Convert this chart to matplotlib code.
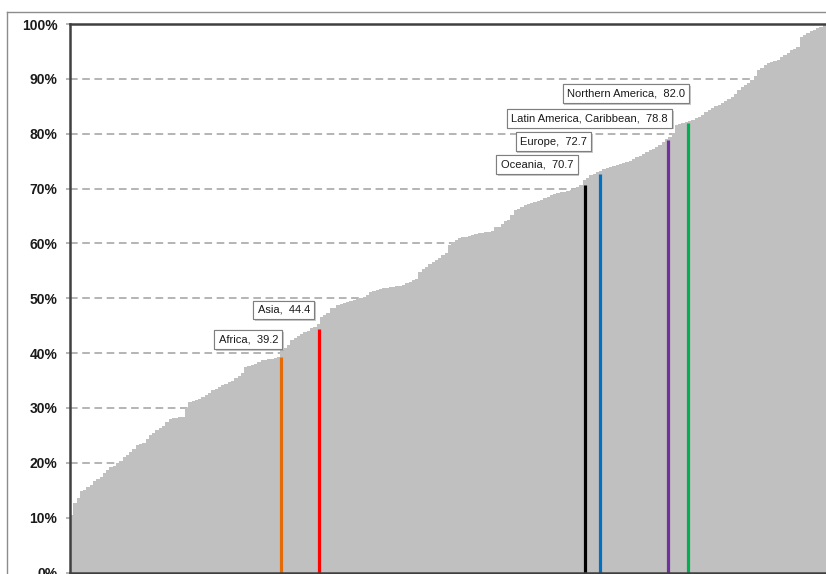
import matplotlib

matplotlib.use("Agg")
import matplotlib.pyplot as plt
import matplotlib.patheffects as pe
import numpy as np
from matplotlib.lines import Line2D

# urban share of population (%), countries sorted ascending
urban = [
    10.5, 12.6, 13.5, 14.9, 15.0, 15.5, 16.0, 16.6, 17.0, 17.5,
    18.2, 18.6, 19.2, 19.5, 20.0, 20.4, 21.0, 21.4, 21.9, 22.5,
    23.2, 23.4, 23.7, 24.3, 25.0, 25.5, 26.0, 26.4, 26.8, 27.4,
    28.0, 28.1, 28.2, 28.3, 28.4, 30.0, 31.0, 31.2, 31.4, 31.7,
    32.0, 32.3, 32.7, 33.2, 33.5, 33.8, 34.1, 34.4, 34.7, 35.0,
    35.4, 35.8, 36.3, 37.5, 37.6, 37.8, 38.1, 38.3, 38.7, 38.8,
    38.9, 39.0, 39.1, 39.2, 40.5, 41.0, 41.5, 42.3, 42.8, 43.2,
    43.4, 43.8, 44.1, 44.5, 44.8, 45.3, 46.5, 47.0, 47.4, 48.2,
    48.3, 48.7, 48.9, 49.1, 49.3, 49.5, 49.6, 49.8, 50.0, 50.2,
    50.6, 51.1, 51.3, 51.5, 51.7, 51.8, 51.9, 52.0, 52.1, 52.2,
    52.2, 52.4, 52.7, 53.0, 53.3, 53.6, 54.8, 55.3, 55.7, 56.2,
    56.6, 57.0, 57.3, 57.8, 58.2, 59.7, 60.2, 60.6, 60.9, 61.1,
    61.2, 61.4, 61.6, 61.8, 61.9, 61.9, 62.0, 62.0, 62.3, 63.0,
    63.0, 63.5, 64.0, 64.2, 65.2, 66.0, 66.3, 66.6, 67.0, 67.1,
    67.3, 67.5, 67.7, 68.0, 68.2, 68.5, 68.8, 69.0, 69.1, 69.3,
    69.4, 69.6, 69.7, 70.0, 70.3, 70.6, 71.6, 72.0, 72.4, 72.7,
    73.0, 73.2, 73.5, 73.7, 73.9, 74.1, 74.3, 74.5, 74.6, 74.8,
    75.0, 75.3, 75.7, 76.0, 76.3, 76.6, 77.0, 77.3, 77.6, 78.0,
    78.5, 79.0, 79.4, 80.2, 81.6, 81.8, 82.0, 82.1, 82.3, 82.5,
    82.8, 83.0, 83.5, 84.0, 84.3, 84.7, 85.0, 85.3, 85.6, 86.0,
    86.3, 86.7, 87.3, 87.9, 88.5, 88.9, 89.3, 89.8, 90.5, 91.6,
    92.0, 92.5, 92.9, 93.1, 93.3, 93.4, 94.0, 94.4, 94.7, 95.2,
    95.5, 95.8, 97.6, 98.0, 98.4, 98.7, 98.9, 99.2, 99.5, 99.8,
]

regions = ["Africa", "Asia", "Oceania", "Europe", "Latin America, Caribbean", "Northern America"]
region_values = [39.2, 44.4, 70.7, 72.7, 78.8, 82.0]
region_rank = [64.2, 75.75, 156.7, 161.2, 181.9, 188.0]
region_colors = ["#E36C09", "#FF0000", "#000000", "#0070C0", "#7030A0", "#00B050"]
# label box offsets (pixels) from the top of each line
label_offsets = [(-3, 13), (-9, 14), (-12, 15), (-13, 27), (0, 17), (-3, 24)]

yticks = np.arange(0, 101, 10)

W, H = 826, 574
fig = plt.figure(figsize=(W / 100, H / 100), dpi=100)
ax = fig.add_axes([70 / W, 1.5 / H, 1 - 70 / W, 548.5 / H])

# outer chart frame
fig.add_artist(Line2D([7 / W, 7 / W], [0, 1 - 12 / H], color="#8C8C8C", lw=1))
fig.add_artist(Line2D([7 / W, 1], [1 - 12 / H, 1 - 12 / H], color="#8C8C8C", lw=1))

edges = np.arange(len(urban) + 1)
ax.stairs(urban, edges, fill=True, color="#C0C0C0", zorder=2)

for x, v, c in zip(region_rank, region_values, region_colors):
    ax.plot([x, x], [0, v], color=c, lw=2.3, solid_capstyle="butt", zorder=3)

for name, x, v, (dx, dy) in zip(regions, region_rank, region_values, label_offsets):
    ann = ax.annotate(
        f"{name},  {v:.1f}",
        xy=(x, v),
        xytext=(dx, dy),
        textcoords="offset pixels",
        ha="right",
        va="bottom",
        fontsize=8,
        family="Liberation Sans",
        color="#1A1A1A",
        zorder=5,
        bbox=dict(boxstyle="square,pad=0.4", fc="white", ec="#7F7F7F", lw=0.8),
    )
    ann.get_bbox_patch().set_path_effects(
        [pe.withSimplePatchShadow(offset=(1.2, -1.2), shadow_rgbFace="#9A9A9A", alpha=0.5), pe.Normal()]
    )

ax.set_xlim(0, 230)
ax.set_ylim(0, 100)
ax.set_yticks(yticks, [f"{t}%" for t in yticks])
ax.set_xticks([])
ax.tick_params(axis="y", length=3, width=1.1, color="#A0A0A0", pad=6)
for lab in ax.get_yticklabels():
    lab.set_fontfamily("Liberation Sans")
    lab.set_fontweight("bold")
    lab.set_fontsize(10)
    lab.set_color("#1A1A1A")

ax.yaxis.grid(True, color="#A0A0A0", lw=1.1, linestyle=(0, (5, 3)), zorder=1)
ax.set_axisbelow(True)
for side in ["top", "left", "bottom"]:
    ax.spines[side].set_color("#404040")
    ax.spines[side].set_linewidth(1.8)
    ax.spines[side].set_zorder(6)
ax.spines["right"].set_visible(False)

fig.savefig("out.png", dpi=100, facecolor="white")
